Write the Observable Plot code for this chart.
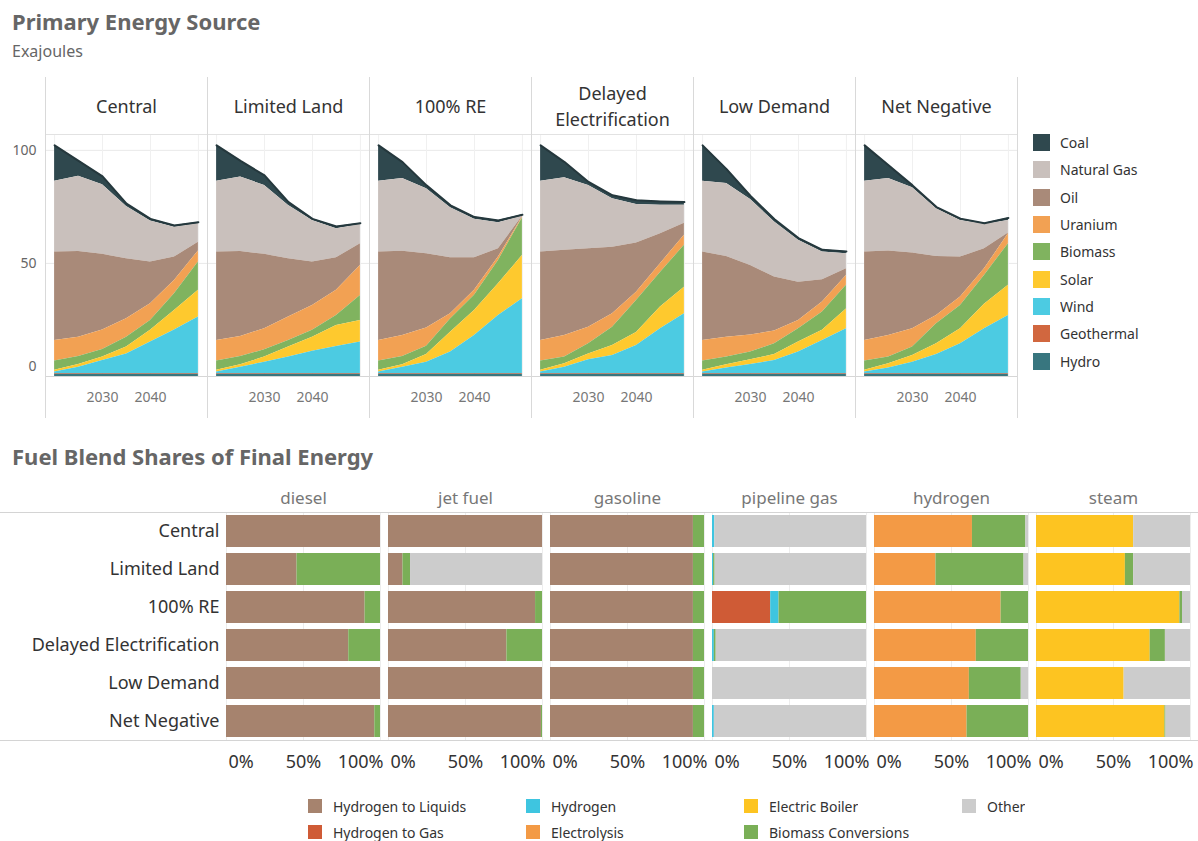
<!DOCTYPE html>
<html><head><meta charset="utf-8">
<script src="https://cdn.jsdelivr.net/npm/d3@7"></script>
<script src="https://cdn.jsdelivr.net/npm/@observablehq/plot@0.6"></script>
<style>
body{margin:0;background:#fff;font-family:"Noto Sans",sans-serif;}
#root{position:relative;width:1198px;height:841px;overflow:hidden;background:#fff;}
.abs{position:absolute;}
.ttl{font-weight:700;font-size:22px;color:#666;line-height:28px;white-space:nowrap;}
.sub{font-size:16px;color:#666;line-height:20px;}
#lg1 .lgtop-swatches{font-family:"Noto Sans",sans-serif;font-size:14px;color:#333;margin:0;}
#lg1 .lgtop-swatch{height:27.3px;padding:0;}
#lg1 svg{margin-right:10px !important;}
#lg2 .lgbot-swatches{font-family:"Noto Sans",sans-serif;font-size:14px;color:#333;margin:0;column-gap:14px;}
#lg2 .lgbot-swatch{height:26px;padding:0;}
#lg2 svg{margin-right:11px !important;}
</style>
</head><body><div id="root"></div>
<script>
// ---------- Primary energy data (EJ) ----------
const years = [2020, 2025, 2030, 2035, 2040, 2045, 2050];
const scenarios = ["Central", "Limited Land", "100% RE", "Delayed Electrification", "Low Demand", "Net Negative"];
const headerLabels = ["Central", "Limited Land", "100% RE", "Delayed\nElectrification", "Low Demand", "Net Negative"];
const sources = ["Coal", "Natural Gas", "Oil", "Uranium", "Biomass", "Solar", "Wind", "Geothermal", "Hydro"];
const sourceColors = ["#2f484e", "#c9c0bc", "#a98a79", "#f2a153", "#80b35f", "#fec92e", "#4ccbe2", "#d1673f", "#38767f"];

const central = {
  "Coal": [15.9, 6.8, 3.7, 1.2, 1.0, 0.8, 0.7],
  "Natural Gas": [31.3, 33.2, 30.8, 23.1, 18.1, 13.2, 8.1],
  "Oil": [39.1, 37.9, 33.4, 26.6, 18.4, 10.3, 3.9],
  "Uranium": [9.1, 8.6, 8.7, 8.1, 7.4, 5.9, 4.9],
  "Biomass": [4.0, 3.5, 3.3, 4.4, 4.4, 7.4, 12.5],
  "Solar": [0.8, 1.2, 1.5, 3.0, 5.2, 8.6, 11.8],
  "Wind": [0.7, 2.8, 5.8, 8.7, 13.9, 19.3, 25.0],
  "Geothermal": [0.3, 0.3, 0.3, 0.3, 0.3, 0.3, 0.3],
  "Hydro": [1.0, 1.0, 1.0, 1.0, 1.0, 1.0, 1.0]
};
const limitedLand = {
  "Coal": [15.9, 7.1, 4.4, 1.5, 0.7, 1.0, 0.6],
  "Natural Gas": [31.3, 32.9, 30.5, 23.5, 18.4, 12.8, 8.5],
  "Oil": [39.1, 37.6, 32.9, 25.8, 19.2, 14.4, 9.6],
  "Uranium": [9.1, 8.9, 9.3, 10.4, 11.0, 11.1, 13.3],
  "Biomass": [4.0, 3.6, 3.2, 2.9, 3.0, 4.4, 11.0],
  "Solar": [0.8, 1.1, 2.3, 4.4, 6.2, 9.3, 9.6],
  "Wind": [0.7, 2.8, 5.0, 7.3, 9.9, 12.0, 13.9],
  "Geothermal": [0.3, 0.3, 0.3, 0.3, 0.3, 0.3, 0.3],
  "Hydro": [1.0, 1.0, 1.0, 1.0, 1.0, 1.0, 1.0]
};
const re100 = {
  "Coal": [15.9, 7.3, 1.5, 1.1, 1.0, 1.0, 0.6],
  "Natural Gas": [31.3, 32.1, 28.7, 22.1, 17.0, 11.5, 0.1],
  "Oil": [39.1, 37.3, 32.9, 24.8, 14.4, 3.7, 0.3],
  "Uranium": [9.1, 9.3, 8.0, 2.3, 2.2, 1.5, 0.4],
  "Biomass": [4.0, 3.6, 3.7, 5.8, 6.7, 10.3, 16.6],
  "Solar": [0.8, 1.1, 3.4, 8.8, 11.1, 14.0, 19.1],
  "Wind": [0.7, 2.8, 5.0, 9.5, 16.8, 25.7, 33.1],
  "Geothermal": [0.3, 0.3, 0.3, 0.3, 0.3, 0.3, 0.3],
  "Hydro": [1.0, 1.0, 1.0, 1.0, 1.0, 1.0, 1.0]
};
const delayedElec = {
  "Coal": [15.9, 6.9, 1.5, 1.5, 1.9, 1.7, 1.4],
  "Natural Gas": [31.3, 32.1, 28.0, 21.4, 17.0, 12.6, 7.9],
  "Oil": [39.1, 37.7, 34.7, 29.5, 21.7, 13.2, 5.4],
  "Uranium": [9.1, 9.5, 7.3, 5.9, 3.7, 3.9, 4.4],
  "Biomass": [4.0, 3.0, 4.5, 8.1, 14.1, 15.3, 18.5],
  "Solar": [0.8, 1.5, 2.6, 4.4, 5.8, 9.6, 11.8],
  "Wind": [0.7, 2.8, 6.1, 8.0, 12.4, 19.8, 26.4],
  "Geothermal": [0.3, 0.3, 0.3, 0.3, 0.3, 0.3, 0.3],
  "Hydro": [1.0, 1.0, 1.0, 1.0, 1.0, 1.0, 1.0]
};
const lowDemand = {
  "Coal": [15.9, 6.4, 1.5, 1.2, 1.0, 1.0, 1.0],
  "Natural Gas": [31.3, 32.2, 29.2, 24.3, 18.5, 12.2, 6.7],
  "Oil": [39.1, 35.7, 30.7, 23.9, 16.9, 9.9, 2.9],
  "Uranium": [9.1, 8.8, 7.6, 5.6, 3.7, 4.4, 4.4],
  "Biomass": [4.0, 3.4, 3.4, 4.8, 5.9, 8.1, 10.4],
  "Solar": [0.8, 1.4, 2.1, 2.6, 4.4, 4.5, 8.8],
  "Wind": [0.7, 2.5, 4.0, 5.8, 9.5, 14.6, 19.8],
  "Geothermal": [0.3, 0.3, 0.3, 0.3, 0.3, 0.3, 0.3],
  "Hydro": [1.0, 1.0, 1.0, 1.0, 1.0, 1.0, 1.0]
};
const netNegative = {
  "Coal": [15.9, 5.9, 1.0, 0.7, 0.8, 0.5, 1.1],
  "Natural Gas": [31.3, 32.0, 28.9, 21.1, 16.2, 10.8, 5.6],
  "Oil": [39.1, 37.4, 33.5, 26.1, 17.7, 8.9, 0.3],
  "Uranium": [9.1, 9.5, 8.1, 3.7, 3.7, 2.9, 4.4],
  "Biomass": [4.0, 3.0, 3.7, 8.8, 10.3, 12.7, 18.4],
  "Solar": [0.8, 1.8, 3.0, 4.8, 6.6, 10.9, 13.3],
  "Wind": [0.7, 2.5, 5.0, 8.4, 13.2, 19.8, 25.7],
  "Geothermal": [0.3, 0.3, 0.3, 0.3, 0.3, 0.3, 0.3],
  "Hydro": [1.0, 1.0, 1.0, 1.0, 1.0, 1.0, 1.0]
};
const scenarioTables = [central, limitedLand, re100, delayedElec, lowDemand, netNegative];

// ---------- Fuel blend share data (%) ----------
const fuels = ["diesel", "jet fuel", "gasoline", "pipeline gas", "hydrogen", "steam"];
const blendCategories = ["Hydrogen to Liquids", "Hydrogen to Gas", "Hydrogen", "Electrolysis", "Electric Boiler", "Biomass Conversions", "Other"];
const blendColors = ["#a6836e", "#cf5b36", "#3ec5e0", "#f39a45", "#fdc421", "#7aaf57", "#cccccc"];
const diesel = {
  "Hydrogen to Liquids": [100, 45.8, 90.0, 79.4, 100, 96.3],
  "Biomass Conversions": [0, 54.2, 10.0, 20.6, 0, 3.7]
};
const jetFuel = {
  "Hydrogen to Liquids": [100, 9.4, 95.5, 76.9, 100, 99.3],
  "Biomass Conversions": [0, 4.9, 4.5, 23.1, 0, 0.7],
  "Other": [0, 85.7, 0, 0, 0, 0]
};
const gasoline = {
  "Hydrogen to Liquids": [92.8, 92.8, 92.8, 92.8, 92.8, 92.8],
  "Biomass Conversions": [7.2, 7.2, 7.2, 7.2, 7.2, 7.2]
};
const pipelineGas = {
  "Hydrogen to Gas": [0, 0, 37.8, 0, 0, 0],
  "Hydrogen": [1.5, 0.7, 5.4, 1.2, 0, 1.2],
  "Biomass Conversions": [0, 1.0, 56.8, 1.2, 0, 0],
  "Other": [98.5, 98.3, 0, 97.6, 100, 98.8]
};
const hydrogenFuel = {
  "Electrolysis": [63.6, 39.9, 82.2, 66.1, 61.6, 60.1],
  "Biomass Conversions": [34.7, 57.2, 17.8, 33.9, 33.7, 39.9],
  "Other": [1.7, 2.9, 0, 0, 4.7, 0]
};
const steam = {
  "Electric Boiler": [63.1, 57.7, 93.1, 73.8, 56.9, 83.4],
  "Biomass Conversions": [0, 5.4, 1.7, 9.9, 0, 0.7],
  "Other": [36.9, 36.9, 5.2, 16.3, 43.1, 15.9]
};
const fuelTables = [diesel, jetFuel, gasoline, pipelineGas, hydrogenFuel, steam];

// ---------- tidy rows ----------
const energyRows = [];
scenarios.forEach((s, si) => {
  sources.forEach(src => {
    scenarioTables[si][src].forEach((v, yi) => energyRows.push({scenario: s, source: src, year: years[yi], value: v}));
  });
});
const stackOrder = sources.slice().reverse();

const blendRows = [];
fuels.forEach((f, fi) => {
  const t = fuelTables[fi];
  blendCategories.forEach(c => {
    if (!t[c]) return;
    t[c].forEach((v, ri) => blendRows.push({fuel: f, scenario: scenarios[ri], category: c, share: v}));
  });
});

const root = document.getElementById("root");
function addDiv(cls, text, left, top) {
  const d = document.createElement("div");
  d.className = "abs " + cls; d.textContent = text;
  d.style.left = left + "px"; d.style.top = top + "px";
  root.appendChild(d); return d;
}
addDiv("ttl", "Primary Energy Source", 12, 7);
addDiv("sub", "Exajoules", 12, 41);
addDiv("ttl", "Fuel Blend Shares of Final Energy", 12, 442);

const FONT = "'Noto Sans', sans-serif";

// ---------- top chart ----------
const topChart = Plot.plot({
  width: 1020, height: 345,
  marginLeft: 44, marginRight: 3, marginTop: 59, marginBottom: 44,
  style: {fontFamily: FONT, fontSize: "14px", background: "transparent", overflow: "visible"},
  fx: {domain: scenarios, padding: 0, axis: null},
  x: {domain: [2018.1, 2051.9]},
  y: {domain: [0, 107]},
  color: {domain: sources, range: sourceColors},
  marks: [
    Plot.gridY([50, 100], {stroke: "#e9e9e9", strokeOpacity: 1}),
    Plot.gridX(years.filter(y => y % 10 === 0), {stroke: "#f0f0f0", strokeOpacity: 1}),
    Plot.areaY(energyRows, Plot.stackY({fx: "scenario", x: "year", y: "value", z: "source", fill: "source", order: stackOrder})),
    Plot.lineY(energyRows, Plot.stackY2({fx: "scenario", x: "year", y: "value", z: "source", order: stackOrder,
      stroke: "#25383d", strokeWidth: 2, strokeOpacity: d => d.source === "Coal" ? 1 : 0})),
    Plot.axisX([2030, 2040], {tickSize: 0, tickPadding: 16, fill: "#777", fontSize: 14, tickFormat: d => String(d), label: null}),
    Plot.axisY([50, 100], {tickSize: 0, tickPadding: 9, fill: "#666", fontSize: 14, label: null}),
    Plot.axisY([0], {tickSize: 0, tickPadding: 9, fill: "#666", fontSize: 14, dy: -10, label: null}),
    Plot.text(scenarios, {fx: d => d, text: d => headerLabels[scenarios.indexOf(d)], frameAnchor: "top", dy: -30,
      lineAnchor: "middle", lineHeight: 1.45, fontSize: 18, fill: "#333"})
  ]
});
topChart.style.position = "absolute"; topChart.style.left = "0px"; topChart.style.top = "75px";
root.appendChild(topChart);

function bandOf(chart, name) {
  const s = chart.scale(name);
  if (s.apply && s.bandwidth != null) return {f: v => s.apply(v), bw: s.bandwidth};
  const b = d3.scaleBand(s.domain, s.range).paddingInner(s.paddingInner ?? 0).paddingOuter(s.paddingOuter ?? 0).align(s.align ?? 0.5);
  return {f: b, bw: b.bandwidth()};
}
function line(svg, x1, y1, x2, y2, color) {
  d3.select(svg).append("line").attr("x1", x1).attr("y1", y1).attr("x2", x2).attr("y2", y2)
    .attr("stroke", color).attr("stroke-width", 1).attr("shape-rendering", "crispEdges");
}
{
  const fb = bandOf(topChart, "fx");
  const xs = scenarios.map(s => fb.f(s));
  const xEnd = xs[xs.length - 1] + fb.bw;
  line(topChart, xs[0], 59, xEnd, 59, "#e2e2e2");
  line(topChart, xs[0], 301, xEnd, 301, "#d6d6d6");
  xs.concat([xEnd]).forEach(x => line(topChart, x, 2, x, 343, "#d9d9d9"));
}

// legend top
const lg1 = document.createElement("div"); lg1.id = "lg1"; lg1.className = "abs";
lg1.style.left = "1033px"; lg1.style.top = "129px";
lg1.appendChild(Plot.legend({color: {domain: sources, range: sourceColors}, legend: "swatches", columns: 1, swatchSize: 17, className: "lgtop"}));
root.appendChild(lg1);

// ---------- bottom chart ----------
const botChart = Plot.plot({
  width: 1198, height: 305,
  marginLeft: 225, marginRight: 6, marginTop: 37, marginBottom: 40,
  style: {fontFamily: FONT, fontSize: "14px", background: "transparent", overflow: "visible"},
  fx: {domain: fuels, paddingInner: 0.047, paddingOuter: 0},
  y: {domain: scenarios, paddingInner: 0.16, paddingOuter: 0.08},
  x: {domain: [0, 100]},
  color: {domain: blendCategories, range: blendColors},
  marks: [
    Plot.gridX([0, 50, 100], {stroke: "#ededed", strokeOpacity: 1}),
    Plot.barX(blendRows, Plot.stackX({fx: "fuel", y: "scenario", x: "share", fill: "category", order: blendCategories})),
    Plot.axisFx({anchor: "top", tickSize: 0, tickPadding: 9, fontSize: 17, fill: "#777", label: null}),
    Plot.axisY({tickSize: 0, tickPadding: 7, fontSize: 18, fill: "#333", label: null}),
    Plot.axisX([0], {tickSize: 0, tickPadding: 15, textAnchor: "start", dx: 2, tickFormat: d => d + "%", fontSize: 18, fill: "#333", label: null}),
    Plot.axisX([50], {tickSize: 0, tickPadding: 15, tickFormat: d => d + "%", fontSize: 18, fill: "#333", label: null}),
    Plot.axisX([100], {tickSize: 0, tickPadding: 15, textAnchor: "end", dx: 3, tickFormat: d => d + "%", fontSize: 18, fill: "#333", label: null})
  ]
});
botChart.style.position = "absolute"; botChart.style.left = "0px"; botChart.style.top = "475px";
root.appendChild(botChart);
line(botChart, 0, 37, 1198, 37, "#d4d4d4");
line(botChart, 0, 265, 1198, 265, "#d4d4d4");

// legend bottom
const lg2 = document.createElement("div"); lg2.id = "lg2"; lg2.className = "abs";
lg2.style.left = "308px"; lg2.style.top = "793px"; lg2.style.width = "858px";
lg2.appendChild(Plot.legend({color: {domain: blendCategories, range: blendColors}, legend: "swatches", columns: 4, swatchSize: 14, className: "lgbot"}));
root.appendChild(lg2);
</script></body></html>
